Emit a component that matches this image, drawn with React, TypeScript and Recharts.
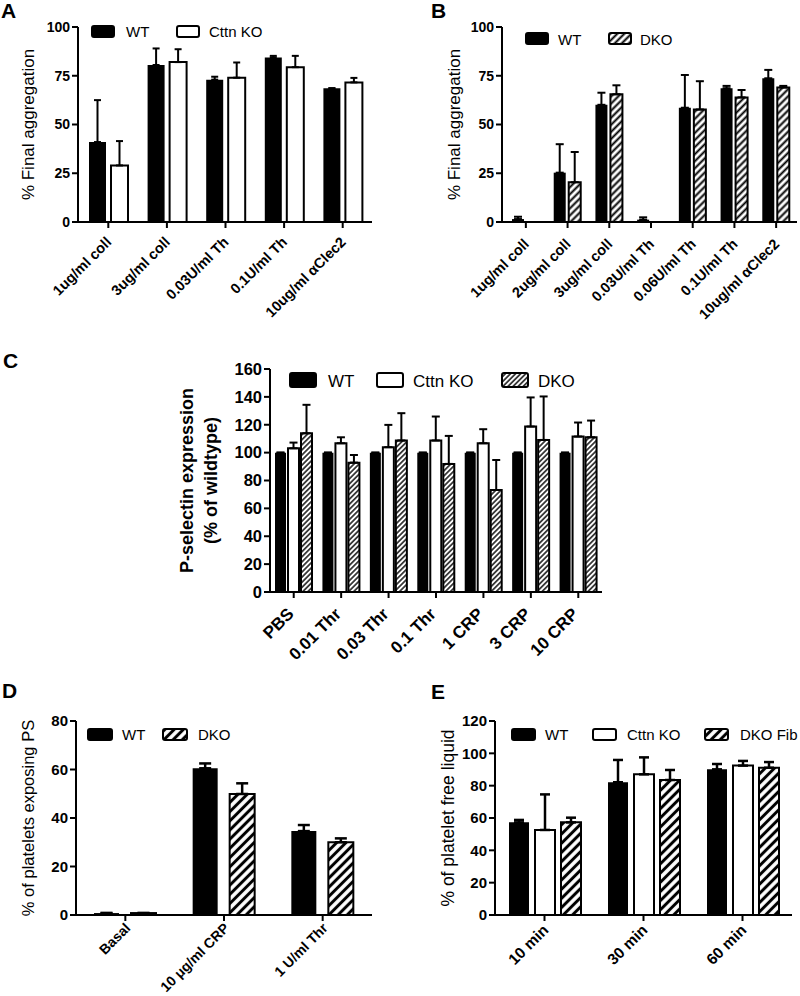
import { BarChart, Bar, XAxis, YAxis, ErrorBar, Legend } from 'recharts';

const FONT = '"Liberation Sans", Arial, Helvetica, sans-serif';

// ---- Panel A: final aggregation, WT vs Cttn KO
const aCategories = ['1ug/ml coll', '3ug/ml coll', '0.03U/ml Th', '0.1U/ml Th', '10ug/ml αClec2'];
const aWt = [41, 80.5, 73, 84.4, 68.6];
const aWtErr = [21.5, 8.5, 1.5, 0.8, 0];
const aKo = [29, 82, 74, 79.4, 71.6];
const aKoErr = [12.5, 6.6, 7.8, 5.8, 2.3];
const aTicks = [0, 25, 50, 75, 100];

// ---- Panel B: final aggregation, WT vs DKO
const bCategories = ['1ug/ml coll', '2ug/ml coll', '3ug/ml coll', '0.03U/ml Th', '0.06U/ml Th', '0.1U/ml Th', '10ug/ml αClec2'];
const bWt = [1.5, 25.3, 60.1, 1.2, 58.6, 68.6, 73.7];
const bWtErr = [1.2, 14.6, 6.2, 1.2, 16.8, 1.2, 4.3];
const bDko = [0, 20.4, 65.5, 0, 57.7, 63.9, 69];
const bDkoErr = [0, 15.5, 4.6, 0, 14.5, 3.8, 0.8];
const bTicks = [0, 25, 50, 75, 100];

// ---- Panel C: P-selectin expression
const cCategories = ['PBS', '0.01 Thr', '0.03 Thr', '0.1 Thr', '1 CRP', '3 CRP', '10 CRP'];
const cWt = [100, 100, 100, 100, 100, 100, 100];
const cWtErr = [0, 0, 0, 0, 0, 0, 0];
const cKo = [103.1, 106.7, 103.9, 108.7, 106.7, 118.7, 111.5];
const cKoErr = [4.1, 4.3, 16, 17.2, 10.1, 20.9, 10.1];
const cDko = [113.9, 92.8, 108.7, 91.9, 73.2, 109.1, 111];
const cDkoErr = [20.4, 5.5, 19.6, 20.1, 21.5, 31.2, 12];
const cTicks = [0, 20, 40, 60, 80, 100, 120, 140, 160];

// ---- Panel D: PS exposure
const dCategories = ['Basal', '10 μg/ml CRP', '1 U/ml Thr'];
const dWt = [0.8, 60.5, 34.6];
const dWtErr = [0, 2, 2.5];
const dDko = [0.8, 49.9, 30];
const dDkoErr = [0, 4.4, 1.6];
const dTicks = [0, 20, 40, 60, 80];

// ---- Panel E: platelet free liquid
const eCategories = ['10 min', '30 min', '60 min'];
const eWt = [57.3, 82.1, 90.1];
const eWtErr = [1.5, 13.8, 3.3];
const eKo = [52.6, 87, 92.4];
const eKoErr = [22, 10.5, 2.9];
const eDko = [57.3, 83.5, 91.1];
const eDkoErr = [2.9, 6.2, 3.5];
const eTicks = [0, 20, 40, 60, 80, 100, 120];

type Kind = 'black' | 'white' | 'hatch';

interface SeriesDef {
  key: string;
  name: string;
  kind: Kind;
  values: number[];
  errors: number[];
}

interface Layout {
  left: number; top: number; width: number; height: number;
  axisX: number; plotRight: number; plotTop: number; plotBottom: number; padLeft: number;
  yMax: number; yTicks: number[]; yFont: number;
  barSize: number; barGap: number; cap: number; errW: number;
  xFont: number; xDx: number; xDy: number;
  titles: { text: string; x: number; weight: string }[];
  titleFont: number;
  legend: { boxX: number[]; textX: number[]; boxY: number; boxW: number; boxH: number; base: number; font: number };
  hatch: { size: number; sw: number };
}

const SlantTick = (props: any) => {
  const { x, y, payload, fs, dx, dy } = props;
  return (
    <g transform={`translate(${x + dx},${y + dy})`}>
      <text x={0} y={0} textAnchor="end" transform="rotate(-45)" fontSize={fs} fontWeight="bold" fill="#000" fontFamily={FONT}>
        {payload.value}
      </text>
    </g>
  );
};

function LegendArt({ series, L, hatchId }: { series: SeriesDef[]; L: Layout; hatchId: string }) {
  const lg = L.legend;
  return (
    <svg width={L.width} height={L.height} style={{ position: 'absolute', left: 0, top: 0, overflow: 'visible' }}>
      {series.map((s, i) => (
        <g key={s.key}>
          <rect
            x={lg.boxX[i] - L.left}
            y={lg.boxY - L.top}
            width={lg.boxW}
            height={lg.boxH}
            rx={2}
            fill={s.kind === 'black' ? '#000' : s.kind === 'white' ? '#fff' : `url(#${hatchId})`}
            stroke="#000"
            strokeWidth={2}
          />
          <text x={lg.textX[i] - L.left} y={lg.base - L.top} fontSize={lg.font} fill="#000" fontFamily={FONT}>
            {s.name}
          </text>
        </g>
      ))}
    </svg>
  );
}

function Panel({ id, categories, series, L }: { id: string; categories: string[]; series: SeriesDef[]; L: Layout }) {
  const rows = categories.map((cat, i) => {
    const r: any = { cat };
    series.forEach(s => {
      r[s.key] = s.values[i];
      r[s.key + 'Err'] = [0, s.errors[i]];
    });
    return r;
  });
  const hatchId = `hatch-${id}`;
  const fillFor = (k: Kind) => (k === 'black' ? '#000' : k === 'white' ? '#fff' : `url(#${hatchId})`);
  const yc = (L.plotTop + L.plotBottom) / 2 - L.top;

  const renderTitle = () => (
    <g>
      {L.titles.map(t => (
        <text
          key={t.text}
          x={t.x - L.left}
          y={yc}
          textAnchor="middle"
          transform={`rotate(-90, ${t.x - L.left}, ${yc})`}
          fontSize={L.titleFont}
          fontWeight={t.weight}
          fill="#000"
          fontFamily={FONT}
        >
          {t.text}
        </text>
      ))}
    </g>
  );

  return (
    <div style={{ position: 'absolute', left: L.left, top: L.top }}>
      <BarChart
        width={L.width}
        height={L.height}
        data={rows}
        margin={{ top: L.plotTop - L.top, right: L.left + L.width - L.plotRight, bottom: 0, left: 0 }}
        barGap={L.barGap}
        barCategoryGap={0}
        style={{ fontFamily: FONT }}
      >
        <defs>
          <pattern id={hatchId} patternUnits="userSpaceOnUse" width={L.hatch.size} height={L.hatch.size} patternTransform="rotate(45)">
            <rect width={L.hatch.size} height={L.hatch.size} fill="#fff" />
            <line x1={L.hatch.size / 2} y1={0} x2={L.hatch.size / 2} y2={L.hatch.size} stroke="#000" strokeWidth={L.hatch.sw} />
          </pattern>
        </defs>
        <XAxis
          dataKey="cat"
          interval={0}
          height={L.top + L.height - L.plotBottom}
          padding={{ left: L.padLeft, right: 0 }}
          axisLine={{ stroke: '#000', strokeWidth: 2 }}
          tickLine={{ stroke: '#000', strokeWidth: 2 }}
          tickSize={6}
          tickMargin={0}
          tick={(p: any) => <SlantTick {...p} fs={L.xFont} dx={L.xDx} dy={L.xDy} />}
        />
        <YAxis
          width={L.axisX - L.left}
          domain={[0, L.yMax]}
          ticks={L.yTicks}
          interval={0}
          allowDataOverflow
          axisLine={{ stroke: '#000', strokeWidth: 2 }}
          tickLine={{ stroke: '#000', strokeWidth: 2 }}
          tickSize={6}
          tickMargin={2}
          tick={{ fill: '#000', fontSize: L.yFont, fontWeight: 'bold', fontFamily: FONT }}
          label={renderTitle}
        />
        {series.map(s => (
          <Bar
            key={s.key}
            dataKey={s.key}
            name={s.name}
            barSize={L.barSize}
            fill={fillFor(s.kind)}
            stroke={s.kind === 'black' ? 'none' : '#000'}
            strokeWidth={s.kind === 'black' ? 0 : 2}
            isAnimationActive={false}
          >
            <ErrorBar dataKey={s.key + 'Err'} width={L.cap} stroke="#000" strokeWidth={L.errW} direction="y" />
          </Bar>
        ))}
        <Legend
          layout="horizontal"
          verticalAlign="middle"
          align="center"
          wrapperStyle={{ left: 0, top: 0, width: L.width, height: L.height, pointerEvents: 'none' }}
          content={() => <LegendArt series={series} L={L} hatchId={hatchId} />}
        />
      </BarChart>
    </div>
  );
}

const layoutA: Layout = {
  left: 0, top: 0, width: 390, height: 330,
  axisX: 78, plotRight: 372, plotTop: 27, plotBottom: 222, padLeft: 1,
  yMax: 100, yTicks: aTicks, yFont: 14,
  barSize: 17, barGap: 5, cap: 3.5, errW: 2,
  xFont: 14.5, xDx: 4, xDy: 15,
  titles: [{ text: '% Final aggregation', x: 34, weight: 'normal' }],
  titleFont: 17,
  legend: { boxX: [92, 177], textX: [126, 209], boxY: 26, boxW: 22, boxH: 11, base: 37, font: 15 },
  hatch: { size: 5, sw: 2 },
};

const layoutB: Layout = {
  left: 400, top: 0, width: 400, height: 330,
  axisX: 502, plotRight: 797, plotTop: 27, plotBottom: 222, padLeft: 3,
  yMax: 100, yTicks: bTicks, yFont: 14,
  barSize: 12, barGap: 3, cap: 4, errW: 2,
  xFont: 14.5, xDx: 4, xDy: 17,
  titles: [{ text: '% Final aggregation', x: 460, weight: 'normal' }],
  titleFont: 17,
  legend: { boxX: [526, 609], textX: [558, 640], boxY: 33, boxW: 22, boxH: 11, base: 45, font: 15 },
  hatch: { size: 5, sw: 2 },
};

const layoutC: Layout = {
  left: 170, top: 340, width: 440, height: 340,
  axisX: 270, plotRight: 602, plotTop: 369, plotBottom: 592, padLeft: 0,
  yMax: 160, yTicks: cTicks, yFont: 16.5,
  barSize: 11, barGap: 2, cap: 4, errW: 2,
  xFont: 17, xDx: 1, xDy: 17,
  titles: [
    { text: 'P-selectin expression', x: 193, weight: 'bold' },
    { text: '(% of wildtype)', x: 217, weight: 'bold' },
  ],
  titleFont: 18,
  legend: { boxX: [290, 377, 502], textX: [328, 413, 538], boxY: 373, boxW: 26, boxH: 14, base: 387, font: 17 },
  hatch: { size: 3.6, sw: 1.4 },
};

const layoutD: Layout = {
  left: 0, top: 660, width: 390, height: 336,
  axisX: 76, plotRight: 372, plotTop: 721, plotBottom: 915, padLeft: 0,
  yMax: 80, yTicks: dTicks, yFont: 15,
  barSize: 25, barGap: 12, cap: 6, errW: 2.5,
  xFont: 14, xDx: 6, xDy: 8,
  titles: [{ text: '% of platelets exposing PS', x: 34, weight: 'normal' }],
  titleFont: 16.5,
  legend: { boxX: [88, 163], textX: [122, 198], boxY: 729, boxW: 24, boxH: 11, base: 740, font: 15 },
  hatch: { size: 6.5, sw: 3 },
};

const layoutE: Layout = {
  left: 400, top: 660, width: 400, height: 336,
  axisX: 495, plotRight: 792, plotTop: 721, plotBottom: 915, padLeft: 0,
  yMax: 120, yTicks: eTicks, yFont: 15,
  barSize: 20, barGap: 6, cap: 5, errW: 2.5,
  xFont: 15.5, xDx: 5, xDy: 10,
  titles: [{ text: '% of platelet free liquid', x: 454, weight: 'normal' }],
  titleFont: 17.5,
  legend: { boxX: [512, 593, 705], textX: [545, 627, 740], boxY: 729, boxW: 23, boxH: 11, base: 740, font: 15 },
  hatch: { size: 6.5, sw: 3 },
};

const panelLetters = [
  { t: 'A', x: 1, y: 18 },
  { t: 'B', x: 431, y: 18 },
  { t: 'C', x: 3, y: 368 },
  { t: 'D', x: 2, y: 698 },
  { t: 'E', x: 431, y: 699 },
];

export default function App() {
  return (
    <div style={{ position: 'absolute', left: 0, top: 0, width: 800, height: 996, background: '#fff', fontFamily: FONT, overflow: 'hidden' }}>
      <Panel
        id="a"
        categories={aCategories}
        L={layoutA}
        series={[
          { key: 'wt', name: 'WT', kind: 'black', values: aWt, errors: aWtErr },
          { key: 'ko', name: 'Cttn KO', kind: 'white', values: aKo, errors: aKoErr },
        ]}
      />
      <Panel
        id="b"
        categories={bCategories}
        L={layoutB}
        series={[
          { key: 'wt', name: 'WT', kind: 'black', values: bWt, errors: bWtErr },
          { key: 'dko', name: 'DKO', kind: 'hatch', values: bDko, errors: bDkoErr },
        ]}
      />
      <Panel
        id="c"
        categories={cCategories}
        L={layoutC}
        series={[
          { key: 'wt', name: 'WT', kind: 'black', values: cWt, errors: cWtErr },
          { key: 'ko', name: 'Cttn KO', kind: 'white', values: cKo, errors: cKoErr },
          { key: 'dko', name: 'DKO', kind: 'hatch', values: cDko, errors: cDkoErr },
        ]}
      />
      <Panel
        id="d"
        categories={dCategories}
        L={layoutD}
        series={[
          { key: 'wt', name: 'WT', kind: 'black', values: dWt, errors: dWtErr },
          { key: 'dko', name: 'DKO', kind: 'hatch', values: dDko, errors: dDkoErr },
        ]}
      />
      <Panel
        id="e"
        categories={eCategories}
        L={layoutE}
        series={[
          { key: 'wt', name: 'WT', kind: 'black', values: eWt, errors: eWtErr },
          { key: 'ko', name: 'Cttn KO', kind: 'white', values: eKo, errors: eKoErr },
          { key: 'dko', name: 'DKO Fib', kind: 'hatch', values: eDko, errors: eDkoErr },
        ]}
      />
      <svg width={800} height={996} style={{ position: 'absolute', left: 0, top: 0, pointerEvents: 'none' }}>
        {panelLetters.map(l => (
          <text key={l.t} x={l.x} y={l.y} fontSize={21} fontWeight="bold" fill="#000" fontFamily={FONT}>
            {l.t}
          </text>
        ))}
      </svg>
    </div>
  );
}
